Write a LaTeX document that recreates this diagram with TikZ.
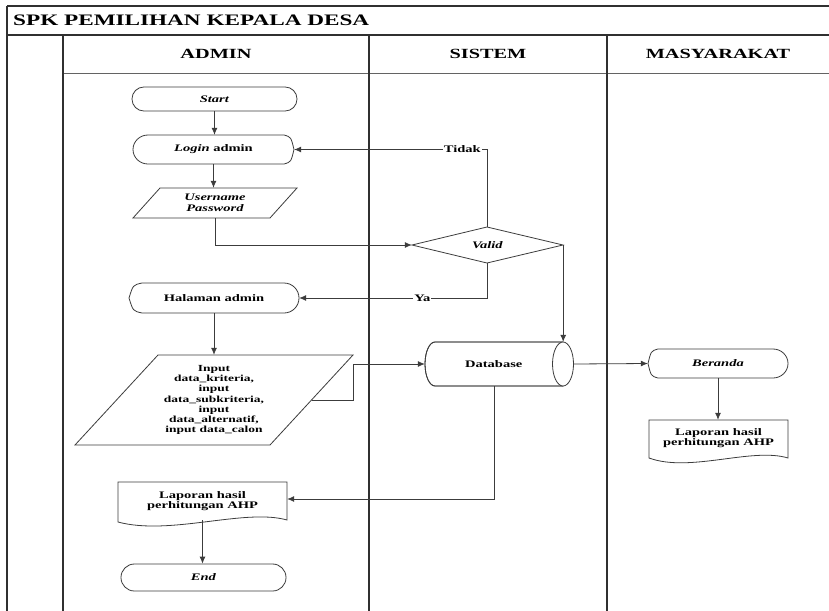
\documentclass[tikz,border=0pt]{standalone}
\usepackage{fontspec}
\setmainfont{Liberation Serif}[FakeStretch=1.45]
\usetikzlibrary{arrows.meta,shapes.geometric,calc}
\definecolor{ln}{HTML}{3C3C3C}
\definecolor{lanec}{HTML}{303030}
\begin{document}
\begin{tikzpicture}[x=1pt,y=-1pt,
  nd/.style={draw=none, inner sep=0pt, align=center, text=black,
             font=\bfseries\fontsize{10}{10.6}\selectfont},
  term/.style={nd, draw=ln, line width=0.8pt, fill=white},
  shp/.style={draw=ln, line width=0.8pt, fill=white},
  arr/.style={draw=ln, line width=0.8pt, -{Latex[length=7pt,width=6pt]}},
  conn/.style={draw=ln, line width=0.8pt},
  lanel/.style={draw=lanec, line width=1.8pt},
  hdr/.style={font=\bfseries\fontsize{14}{14}\selectfont, text=black, inner sep=0pt},
  elbl/.style={font=\bfseries\fontsize{10}{10}\selectfont, fill=white, inner sep=1pt, text=black}
]
\useasboundingbox (0,0) rectangle (829,610);
\fill[white] (0,0) rectangle (829,610);

% ---- swimlane frame ----
\draw[lanec, line width=1.2pt] (7,6) -- (832,6);
\draw[lanec, line width=1.4pt] (7,6) -- (7,612);
\draw[lanec, line width=2pt] (7,35) -- (832,35);
\draw[ln!80, line width=0.8pt] (63,73) -- (832,73);
\draw[lanel] (63,35) -- (63,612);
\draw[lanel] (369,35) -- (369,612);
\draw[lanel] (607,35) -- (607,612);

\node[anchor=west, font=\bfseries\fontsize{16}{16}\selectfont, inner sep=0pt] (title) at (13,20.5) {SPK PEMILIHAN KEPALA DESA};
\node[hdr] (hadmin) at (216,54) {ADMIN};
\node[hdr] (hsis) at (488,54) {SISTEM};
\node[hdr] (hmas) at (718,54) {MASYARAKAT};

% ---- Start ----
\node[term, rounded corners=11.9pt, minimum width=165pt, minimum height=24pt] (start) at (214.5,99) {\textit{Start}};

% ---- Login admin (display shape, round left) ----
\draw[shp] (148,135) -- (284,135) .. controls (291,137) .. (294,149.5)
  .. controls (291,162) .. (284,164) -- (148,164)
  .. controls (139.7,164) and (133,157.5) .. (133,149.5)
  .. controls (133,141.5) and (139.7,135) .. (148,135) -- cycle;
\node[nd, minimum width=161pt, minimum height=29pt] (login) at (213.5,149.5) {\textit{Login} admin};

% ---- Username Password ----
\draw[shp] (160,188) -- (297,188) -- (270,218) -- (133,218) -- cycle;
\node[nd, minimum width=164pt, minimum height=30pt] (user) at (215,203) {\textit{Username}\\\textit{Password}};

% ---- Valid diamond ----
\draw[shp] (412,245) -- (487,227) -- (563,245) -- (487,263) -- cycle;
\node[nd, minimum width=151pt, minimum height=36pt] (valid) at (487.5,245) {\textit{Valid}};

% ---- Halaman admin ----
\draw[shp] (142,283) -- (284,283) .. controls (292.3,283) and (299,289.7) .. (299,298)
  .. controls (299,306.3) and (292.3,313) .. (284,313) -- (142,313)
  .. controls (133,311) .. (129,298) .. controls (133,285) .. (142,283) -- cycle;
\node[nd, minimum width=170pt, minimum height=30pt] (hal) at (214,298) {Halaman admin};

% ---- Input parallelogram ----
\draw[shp] (158,355) -- (353,355) -- (270,445) -- (75,445) -- cycle;
\node[nd, font=\bfseries\fontsize{9.3}{10.3}\selectfont, minimum width=278pt, minimum height=90pt] (inp) at (214,400)
  {Input\\data\_kriteria,\\input\\data\_subkriteria,\\input\\data\_alternatif,\\input data\_calon};
\coordinate (inR) at ($(inp.center)+(97.5,0)$);

% ---- Database (horizontal cylinder) ----
\draw[shp] (563,342) -- (435,342) .. controls (429.5,342) and (425,351.8) .. (425,364)
  .. controls (425,376.2) and (429.5,386) .. (435,386) -- (563,386) -- cycle;
\draw[conn] (563,342) -- (435,342) .. controls (429.5,342) and (425,351.8) .. (425,364)
  .. controls (425,376.2) and (429.5,386) .. (435,386) -- (563,386);
\draw[shp] (563,364) ellipse [x radius=10.5pt, y radius=22pt];
\node[nd, minimum width=148.5pt, minimum height=44pt] (db) at (499.25,364) {Database\hspace{11pt}};

% ---- Beranda ----
\draw[shp] (658,349) -- (773,349) .. controls (781.3,349) and (788,355.5) .. (788,363.5)
  .. controls (788,371.5) and (781.3,378) .. (773,378) -- (658,378)
  .. controls (651,376) .. (648,363.5) .. controls (651,351) .. (658,349) -- cycle;
\node[nd, minimum width=140pt, minimum height=29pt] (ber) at (718,363.5) {\textit{Beranda}};

% ---- Laporan (right) ----
\draw[shp] (649,420) -- (788,420) -- (788,458) .. controls (752,447) and (690,473) .. (649,458) -- cycle;
\node[nd, minimum width=139pt, minimum height=36pt] (lapR) at (718.5,438) {Laporan hasil\\perhitungan AHP};

% ---- Laporan (left) ----
\draw[shp] (118,482) -- (287,482) -- (287,520) .. controls (245,508) and (170,536) .. (118,522) -- cycle;
\node[nd, minimum width=169pt, minimum height=38pt] (lapL) at (202.5,501) {Laporan hasil\\perhitungan AHP};

% ---- End ----
\node[term, rounded corners=13.4pt, minimum width=165pt, minimum height=27pt] (end) at (203.5,577.5) {\textit{End}};

% ---- connectors ----
\draw[arr] (start.south) -- (start.south |- login.north);
\draw[arr] (login.south) -- (login.south |- user.north);
\draw[arr] (user.south) |- (valid.west);
\draw[arr] (valid.north) |- (login.east) node[elbl, pos=0.565] {Tidak};
\draw[arr] (valid.south) |- (hal.east) node[elbl, pos=0.673] {Ya};
\draw[arr] (valid.east) -- (valid.east |- db.north);
\draw[arr] (hal.south) -- (hal.south |- inp.north);
\draw[arr] (inR) -- ++(41.5,0) |- (db.west);
\draw[arr] (db.east) -- (ber.west);
\draw[arr] (ber.south) -- (ber.south |- lapR.north);
\draw[arr] ([xshift=-5pt]db.south) |- ([yshift=2pt]lapL.east);
\draw[arr] (lapL.south) -- (lapL.south |- end.north);
\end{tikzpicture}
\end{document}
